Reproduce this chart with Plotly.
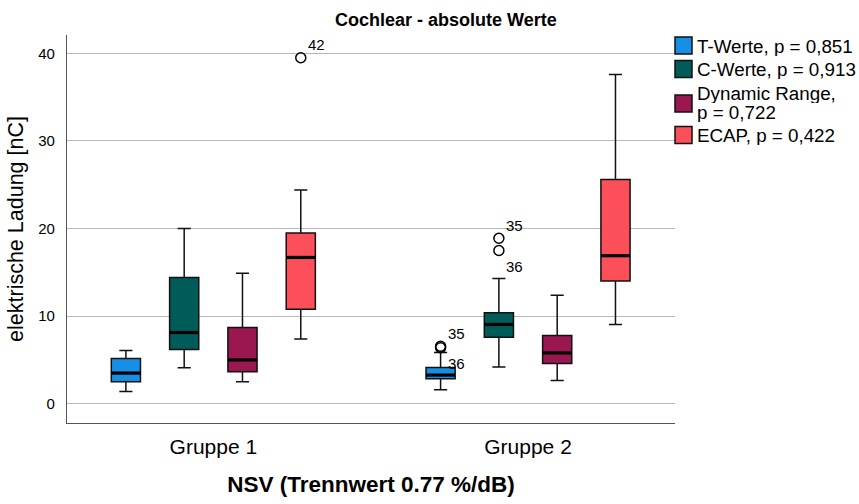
import plotly.graph_objects as go

groups = ["Gruppe 1", "Gruppe 2"]
group_pos = [0, 1]
series = ["T-Werte, p = 0,851", "C-Werte, p = 0,913", "Dynamic Range, p = 0,722", "ECAP, p = 0,422"]
legend_lines = [["T-Werte, p = 0,851"], ["C-Werte, p = 0,913"],
                ["Dynamic Range,", "p = 0,722"], ["ECAP, p = 0,422"]]
colors = ["#1590e6", "#005c58", "#9b1750", "#fc4f59"]

lowerfence = [[1.4, 1.6], [4.1, 4.2], [2.5, 2.65], [7.4, 9.05]]
q1 = [[2.5, 2.85], [6.2, 7.6], [3.65, 4.6], [10.8, 14.0]]
median = [[3.5, 3.27], [8.13, 9.05], [5.0, 5.8], [16.7, 16.9]]
q3 = [[5.17, 4.14], [14.4, 10.4], [8.7, 7.8], [19.5, 25.6]]
upperfence = [[6.08, 5.85], [20.0, 14.3], [14.9, 12.4], [24.4, 37.6]]

# outliers: (series index, group index, value, label, label position)
outliers = [
    (3, 0, 39.5, "42", "up"),
    (0, 1, 6.55, "35", "up"),
    (0, 1, 6.4, "36", "down"),
    (1, 1, 18.9, "35", "up"),
    (1, 1, 17.5, "36", "down"),
]

BOXGAP = 0.259
BOXGROUPGAP = 0.5
N = len(series)

# plot-area geometry in pixels (for placing paper-referenced legend/title)
W, H = 859, 504
ML, MR, MT, MB = 67, 184, 35, 81
PW, PH = W - ML - MR, H - MT - MB


def px_x(px):
    return (px - ML) / PW


def px_y(py):
    return (H - MB - py) / PH


def offset(i):
    return (1 - BOXGAP) * (-0.5 + (i + 0.5) / N)


half_w = 0.5 * (1 - BOXGAP) * (1 - BOXGROUPGAP) / N

fig = go.Figure()
for i, name in enumerate(series):
    fig.add_trace(go.Box(
        name=name,
        x=group_pos,
        q1=q1[i], median=median[i], q3=q3[i],
        lowerfence=lowerfence[i], upperfence=upperfence[i],
        fillcolor=colors[i],
        line=dict(color="#111111", width=1.5),
        whiskerwidth=0.45,
        boxpoints=False,
        hoverinfo="skip",
        showlegend=False,
    ))

# thick median lines
for i in range(N):
    xs, ys = [], []
    for g in range(len(group_pos)):
        c = group_pos[g] + offset(i)
        xs += [c - half_w, c + half_w, None]
        ys += [median[i][g], median[i][g], None]
    fig.add_trace(go.Scatter(x=xs, y=ys, mode="lines",
                             line=dict(color="black", width=3.2),
                             showlegend=False, hoverinfo="skip"))

# outliers
ox = [group_pos[g] + offset(i) for (i, g, v, l, p) in outliers]
oy = [v for (i, g, v, l, p) in outliers]
fig.add_trace(go.Scatter(x=ox, y=oy, mode="markers",
                         marker=dict(symbol="circle-open", size=10, color="black",
                                     line=dict(width=1.5, color="black")),
                         showlegend=False, hoverinfo="skip"))
for (i, g, v, l, p), x in zip(outliers, ox):
    fig.add_annotation(x=x, y=v, text=l, showarrow=False,
                       xshift=16, yshift=13 if p == "up" else -16,
                       font=dict(size=15, color="black"))

# manual legend (square swatch + text)
sw_top = [37, 60.5, 95, 126.5]
text_y = [[46.5], [69], [93, 113], [135.5]]
for i in range(N):
    fig.add_shape(type="rect", xref="paper", yref="paper",
                  x0=px_x(675), x1=px_x(692), y0=px_y(sw_top[i]), y1=px_y(sw_top[i] + 17),
                  fillcolor=colors[i], line=dict(color="#111111", width=1.5))
    for line, ty in zip(legend_lines[i], text_y[i]):
        fig.add_annotation(x=px_x(696), y=px_y(ty), xref="paper", yref="paper",
                           text=line, showarrow=False, xanchor="left", yanchor="middle",
                           height=19, valign="middle",
                           font=dict(size=18.8, color="black"), borderpad=0)

fig.add_annotation(x=px_x(446), y=px_y(20), xref="paper", yref="paper",
                   text="<b>Cochlear - absolute Werte</b>", showarrow=False,
                   xanchor="center", yanchor="middle",
                   font=dict(size=18, color="black"))

fig.update_layout(
    width=W, height=H,
    margin=dict(l=ML, r=MR, t=MT, b=MB, autoexpand=False),
    paper_bgcolor="white", plot_bgcolor="white",
    font=dict(family="Liberation Sans, Arial, sans-serif", color="black"),
    boxmode="group", boxgap=BOXGAP, boxgroupgap=BOXGROUPGAP,
    showlegend=False,
    xaxis=dict(range=[-0.465, 1.467], tickvals=group_pos, ticktext=groups,
               tickfont=dict(size=21), showgrid=False, zeroline=False,
               showline=True, linecolor="#555555", linewidth=1.2, ticks="",
               ticklabelstandoff=5, automargin=False,
               title=dict(text="<b>NSV (Trennwert 0.77 %/dB)</b>", font=dict(size=22.5), standoff=18)),
    yaxis=dict(range=[-2.2, 42.1], tickvals=[0, 10, 20, 30, 40],
               tickfont=dict(size=15), showgrid=True, gridcolor="#b8b8b8", gridwidth=1.2,
               zeroline=False, showline=True, linecolor="#555555", linewidth=1.2, ticks="",
               ticklabelstandoff=8, automargin=False,
               title=dict(text="elektrische Ladung [nC]", font=dict(size=21.5), standoff=8)),
)

fig.write_html("out.html")
